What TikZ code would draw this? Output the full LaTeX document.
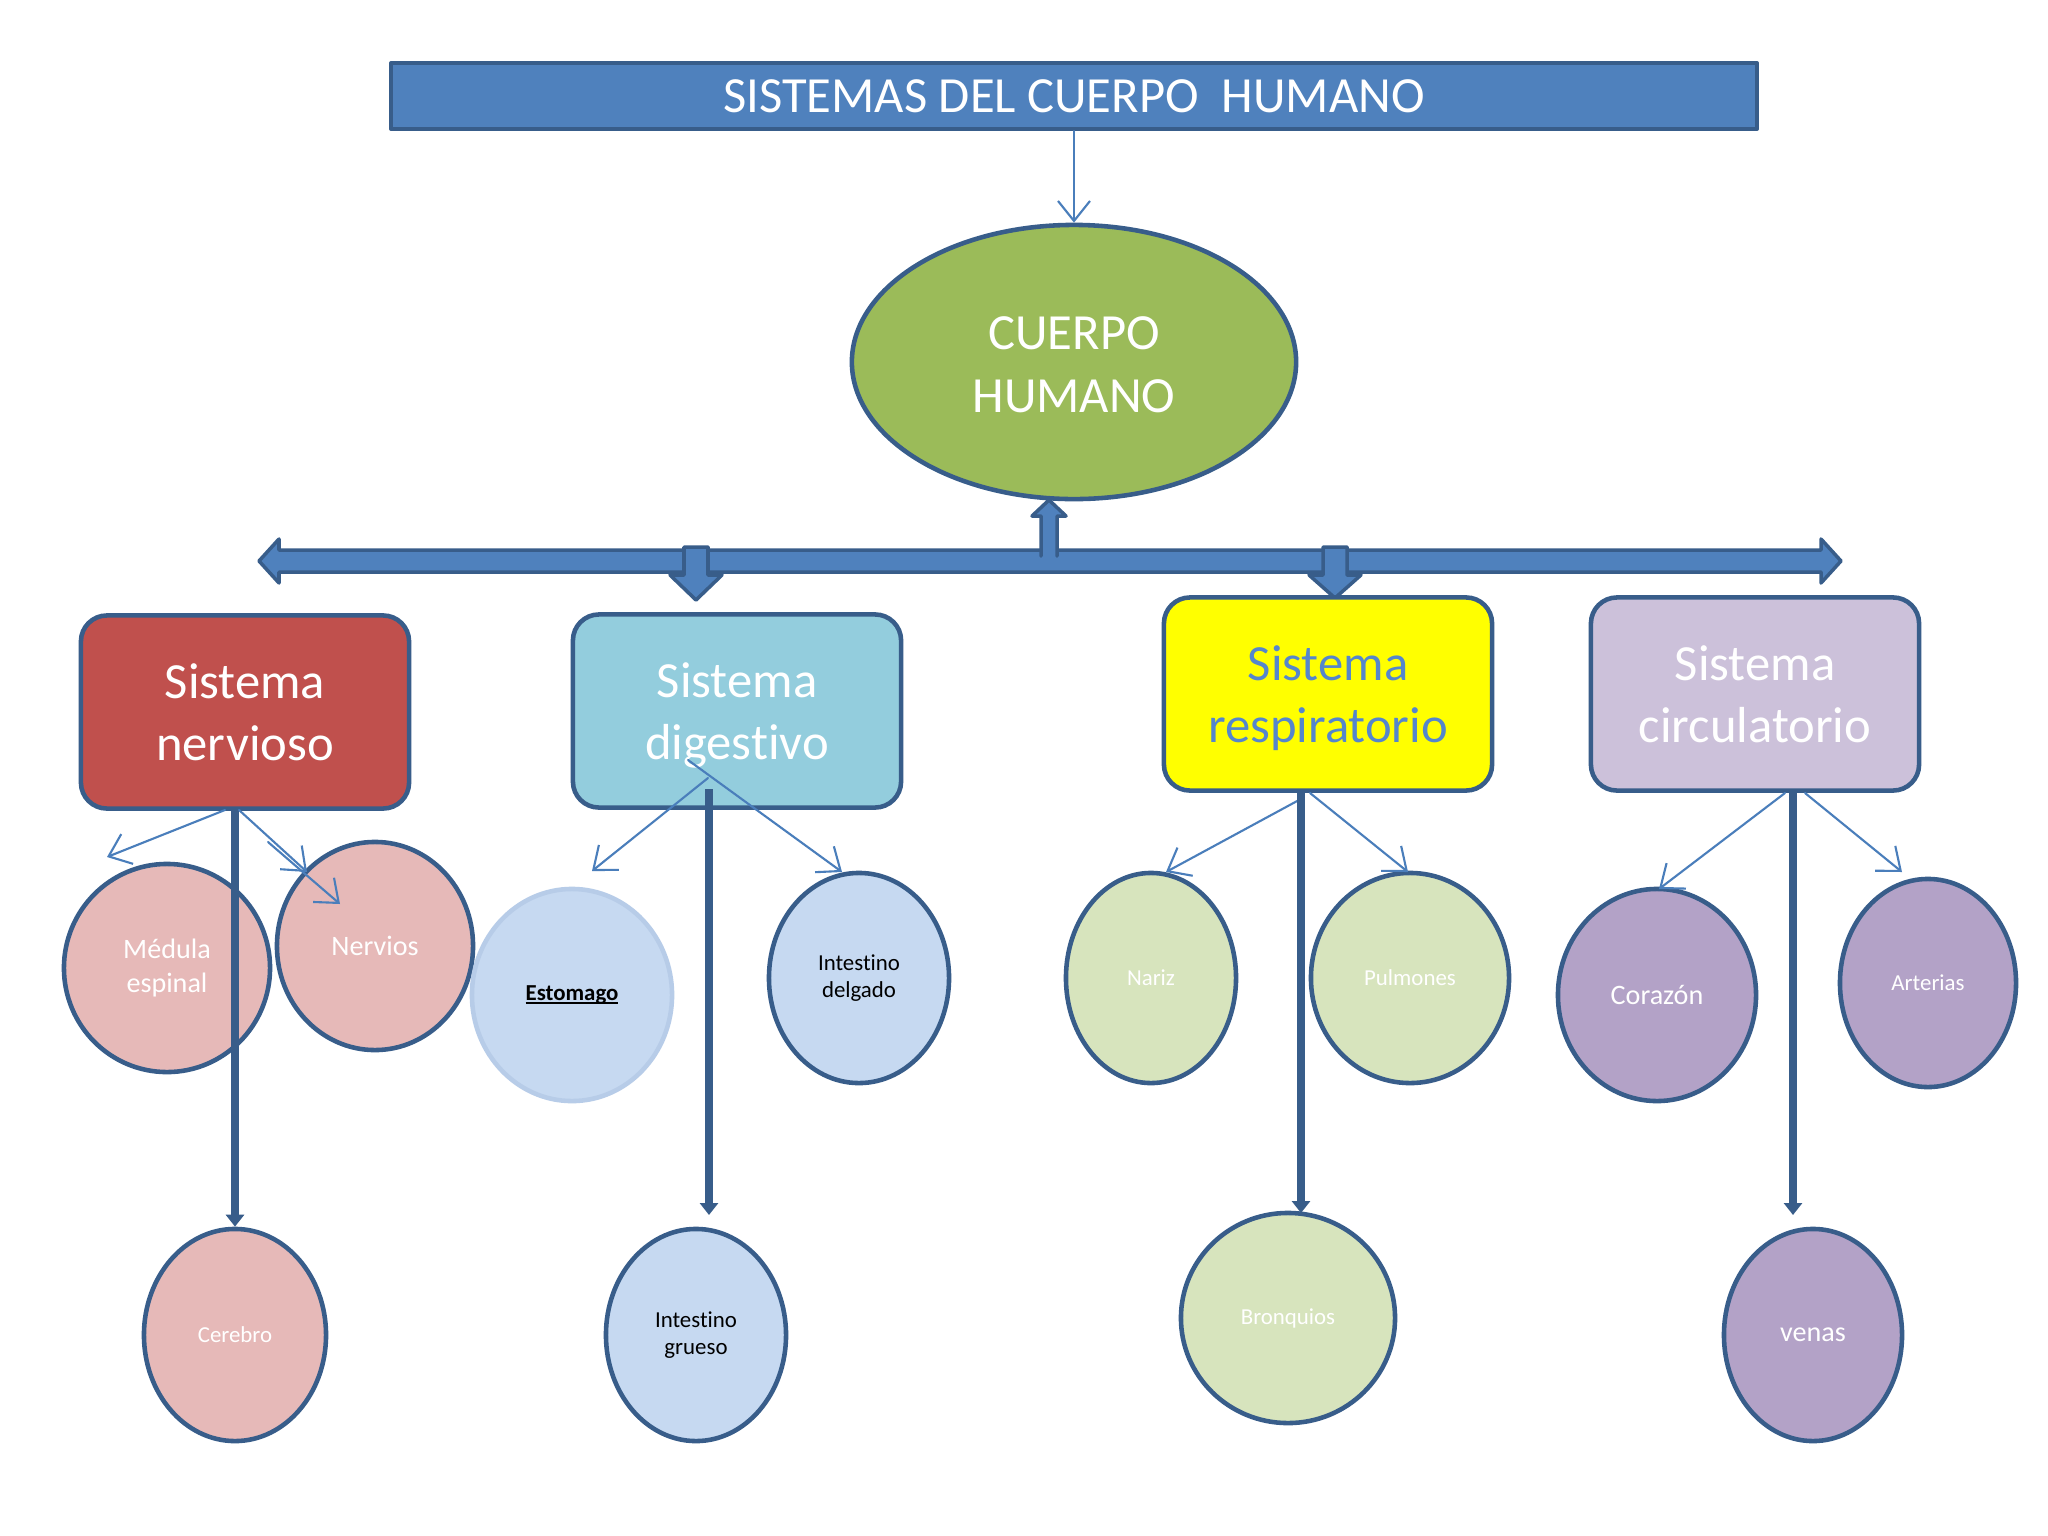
\documentclass[tikz,border=0pt]{standalone}
\usepackage{fontspec}
\setmainfont[Ligatures=NoCommon]{Carlito}
\usetikzlibrary{shapes.geometric,arrows.meta}
\definecolor{barblue}{HTML}{4F81BD}
\definecolor{edgeblue}{HTML}{385D8A}
\definecolor{thinblue}{HTML}{4A7EBB}
\definecolor{cuerpogreen}{HTML}{9BBB59}
\definecolor{nervred}{HTML}{C0504D}
\definecolor{digblue}{HTML}{93CDDD}
\definecolor{resptext}{HTML}{5586CC}
\definecolor{respyellow}{HTML}{FFFF00}
\definecolor{circlila}{HTML}{CCC1DA}
\definecolor{rosa}{HTML}{E6B9B8}
\definecolor{celeste}{HTML}{C6D9F1}
\definecolor{celesteborde}{HTML}{B7CCE8}
\definecolor{verde}{HTML}{D7E4BD}
\definecolor{morado}{HTML}{B3A2C7}
\newcommand\subraya[1]{\setbox0\hbox{#1}\rlap{\rule[-0.9pt]{\wd0}{0.55pt}}\box0}
\tikzset{
	bigfont/.style={font=\fontsize{14.4}{17.5}\selectfont},
	midfont/.style={font=\fontsize{8}{9.7}\selectfont},
	smallfont/.style={font=\fontsize{6.5}{7.8}\selectfont},
	sysbox/.style={draw=edgeblue, line width=1.3pt, rounded corners=0.26cm, minimum width=3.28cm, minimum height=1.93cm, align=center, text=white, bigfont, text height=30.4pt, text depth=3pt},
	organ/.style={ellipse, draw=edgeblue, line width=1.3pt, inner sep=0pt, align=center, text=white, smallfont},
	fatarrow/.style={fill=barblue, draw=edgeblue, line width=1pt},
	thinarrow/.style={->, thinblue, line width=0.6pt},
	bigline/.style={-{Triangle[width=0.18cm,length=0.12cm]}, edgeblue, line width=2.3pt, line cap=butt}
}
\begin{document}
\begin{tikzpicture}[x=0.01cm, y=-0.01cm, >={Straight Barb[length=2mm,width=3.2mm]}, line join=round, line cap=round]
	\useasboundingbox[fill=white] (0,0) rectangle (2048,1536);
	% titulo y cuerpo
	\node[draw=edgeblue, fill=barblue, line width=1.1pt, minimum width=13.65cm, minimum height=0.66cm, inner sep=0pt, text=white, bigfont] (titulo) at (1074,96) {SISTEMAS DEL CUERPO\ \ HUMANO};
	\node[organ, fill=cuerpogreen, minimum width=4.44cm, minimum height=2.74cm, font=\fontsize{14.4}{18}\selectfont, text height=32pt, text depth=3pt] (cuerpo) at (1074,362) {CUERPO\\HUMANO};
	\draw[thinarrow] (titulo.south) -- (cuerpo.north);
	% flecha grande
	\draw[fatarrow] (259,561) -- (279,539) -- (279,550) -- (1821,550) -- (1821,539) -- (1841,561) -- (1821,583) -- (1821,572) -- (279,572) -- (279,583) -- cycle;
	\filldraw[fatarrow] (1041,556) -- (1041,516) -- (1032,516) -- (1049,500) -- (1066,516) -- (1057,516) -- (1057,556);
	\foreach \x/\t in {696/600, 1335/598}
		\draw[fatarrow] (\x-12,547) -- (\x+12,547) -- (\x+12,575) -- (\x+26,575) -- (\x,\t) -- (\x-26,575) -- (\x-12,575) -- cycle;
	% sistemas
	\node[sysbox, fill=nervred] (nervioso) at (245,712) {Sistema\\nervioso};
	\node[sysbox, fill=digblue] (digestivo) at (737,711) {Sistema\\digestivo};
	\node[sysbox, fill=respyellow, text=resptext] (respiratorio) at (1328,694) {Sistema\\respiratorio};
	\node[sysbox, fill=circlila] (circulatorio) at (1755,694) {Sistema\\circulatorio};
	% organos
	\node[organ, fill=rosa, minimum width=2.06cm, minimum height=2.08cm, midfont] (medula) at (167,968) {Médula\\espinal};
	\node[organ, fill=rosa, minimum width=1.96cm, minimum height=2.08cm, midfont] (nervios) at (375,946) {Nervios};
	\node[organ, fill=rosa, minimum width=1.82cm, minimum height=2.12cm] (cerebro) at (235,1335) {Cerebro};
	\node[organ, fill=celeste, draw=celesteborde, text=black, minimum width=2.0cm, minimum height=2.12cm] (estomago) at (572,995) {\subraya{\textbf{Estomago}}};
	\node[organ, fill=celeste, text=black, minimum width=1.8cm, minimum height=2.1cm] (delgado) at (859,978) {Intestino\\delgado};
	\node[organ, fill=celeste, text=black, minimum width=1.8cm, minimum height=2.12cm] (grueso) at (696,1335) {Intestino\\grueso};
	\node[organ, fill=verde, minimum width=1.7cm, minimum height=2.1cm] (nariz) at (1151,978) {Nariz};
	\node[organ, fill=verde, minimum width=1.98cm, minimum height=2.1cm] (pulmones) at (1410,978) {Pulmones};
	\node[organ, fill=verde, minimum width=2.14cm, minimum height=2.1cm] (bronquios) at (1288,1318) {Bronquios};
	\node[organ, fill=morado, minimum width=1.98cm, minimum height=2.12cm, midfont] (corazon) at (1657,995) {Corazón};
	\node[organ, fill=morado, minimum width=1.76cm, minimum height=2.08cm] (arterias) at (1928,983) {Arterias};
	\node[organ, fill=morado, minimum width=1.78cm, minimum height=2.12cm, midfont] (venas) at (1813,1335) {venas};
	% puntos de las flechas
	\coordinate (n1) at (225,810); \coordinate (n1e) at (107,857);
	\coordinate (n2) at (239,810); \coordinate (n2e) at (307,872);
	\coordinate (n3) at (268,842); \coordinate (n3e) at (340,904);
	\coordinate (d1) at (708,778); \coordinate (d1e) at (592,871);
	\coordinate (d2) at (688,760); \coordinate (d2e) at (842,872);
	\coordinate (r1) at (1299,800); \coordinate (r1e) at (1166,872);
	\coordinate (r2) at (1310,793); \coordinate (r2e) at (1408,872);
	\coordinate (c1) at (1785,793); \coordinate (c1e) at (1659,889);
	\coordinate (c2) at (1805,793); \coordinate (c2e) at (1902,872);
	\draw[thinarrow] (n1) -- (n1e);
	\draw[thinarrow] (n2) -- (n2e);
	\draw[thinarrow] (n3) -- (n3e);
	\draw[thinarrow] (d1) -- (d1e);
	\draw[thinarrow] (d2) -- (d2e);
	\draw[thinarrow] (r1) -- (r1e);
	\draw[thinarrow] (r2) -- (r2e);
	\draw[thinarrow] (c1) -- (c1e);
	\draw[thinarrow] (c2) -- (c2e);
	% lineas gruesas
	\draw[bigline] (nervioso.south -| cerebro.north) -- (cerebro.north);
	\draw[bigline] (709,789) -- (709,1215);
	\draw[bigline] (1301,793) -- (1301,1213);
	\draw[bigline] (1793,793) -- (1793,1215);
\end{tikzpicture}
\end{document}
